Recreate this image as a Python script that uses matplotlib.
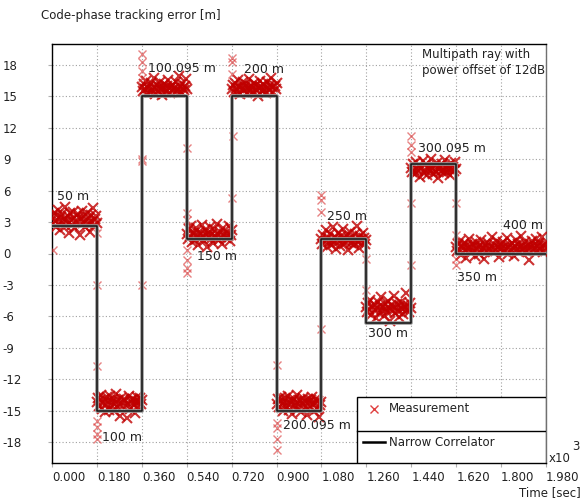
import numpy as np
import matplotlib
matplotlib.use('Agg')
import matplotlib.pyplot as plt
from matplotlib.patches import Rectangle
from matplotlib.lines import Line2D

# segment edges (x10^3 sec) and narrow correlator output per segment [m]
edges = [0.0, 0.18, 0.36, 0.54, 0.72, 0.90, 1.08, 1.26, 1.44, 1.62, 1.98]
nc_levels = [2.6, -15.0, 15.0, 1.4, 15.0, -15.0, 1.4, -6.6, 8.5, 0.0]

# multipath delay labels
labels = ['50 m', '100 m', '100.095 m', '150 m', '200 m', '200.095 m',
          '250 m', '300 m', '300.095 m', '350 m', '400 m']
label_t = [0.020, 0.200, 0.385, 0.581, 0.770, 0.926, 1.102, 1.267, 1.467, 1.623, 1.808]
label_y = [5.4, -17.6, 17.7, -0.3, 17.6, -16.4, 3.5, -7.6, 10.0, -2.3, 2.7]

m_50 = [3.4, 2.8, 3.9, 3.1, 2.5, 3.7, 4.2, 3.0, 2.2, 3.5, 3.8, 2.9, 3.3, 4.4, 2.6,
        3.1, 3.6, 2.0, 3.9, 3.2, 2.7, 4.0, 3.4, 2.4, 3.0, 3.8, 3.5, 1.8, 3.3, 4.1,
        2.9, 3.6, 2.5, 3.2, 3.9, 2.8, 3.4, 2.1, 3.7, 3.0, 4.3, 2.6, 3.3, 3.6, 2.9]
m_100 = [-14.2, -13.8, -14.6, -14.0, -13.5, -14.8, -14.3, -13.9, -15.1, -14.4,
         -13.7, -14.1, -14.9, -13.6, -14.5, -14.2, -13.9, -15.0, -14.3, -13.4,
         -14.7, -14.0, -14.4, -15.5, -13.8, -14.2, -14.6, -13.9, -14.1, -15.7,
         -14.4, -13.6, -14.8, -14.0, -14.3, -13.9, -14.5, -15.2, -14.1, -13.7,
         -14.6, -14.2, -13.8, -14.4, -14.0]
m_100095 = [15.9, 15.5, 16.2, 15.7, 16.5, 15.3, 15.8, 16.0, 15.4, 16.3, 15.6, 15.9,
            16.8, 15.2, 15.7, 16.1, 15.5, 15.9, 16.4, 15.6, 15.1, 15.8, 16.2, 15.7,
            15.4, 16.0, 16.6, 15.8, 15.3, 15.9, 16.1, 15.6, 15.8, 16.4, 15.5, 15.7,
            16.9, 15.9, 15.4, 16.2, 15.8, 15.6, 16.0, 16.7, 15.7]
m_150 = [1.9, 1.4, 2.3, 1.7, 2.6, 1.1, 1.8, 2.0, 1.3, 2.4, 1.6, 0.8, 2.1, 1.9, 1.5,
         2.7, 1.7, 1.2, 2.2, 1.8, 0.6, 2.0, 1.6, 2.5, 1.4, 1.9, 1.0, 2.3, 1.7, 1.5,
         2.8, 1.8, 1.3, 2.1, 1.6, 0.9, 2.4, 1.9, 1.5, 2.0, 1.7, 2.6, 1.2, 1.8, 2.2]
m_200 = [15.7, 16.1, 15.4, 16.3, 15.8, 15.5, 16.6, 15.9, 15.2, 16.0, 15.7, 16.4,
         15.6, 15.9, 16.2, 15.3, 15.8, 16.7, 15.5, 16.0, 15.9, 15.4, 16.3, 15.7,
         16.1, 15.6, 15.0, 15.8, 16.5, 15.9, 15.5, 16.2, 15.7, 16.0, 15.3, 16.4,
         15.8, 15.6, 16.1, 16.8, 15.9, 15.4, 16.0, 15.7, 16.3]
m_200095 = [-14.4, -13.9, -14.7, -14.1, -13.7, -14.5, -15.0, -14.2, -13.8, -14.6,
            -14.3, -13.6, -14.9, -14.0, -14.4, -15.3, -14.1, -13.9, -14.6, -14.2,
            -13.5, -14.8, -14.4, -14.0, -15.1, -14.3, -13.8, -14.5, -14.1, -14.7,
            -15.4, -13.9, -14.2, -14.6, -14.0, -13.7, -14.4, -15.0, -14.3, -13.9,
            -14.8, -14.1, -15.6, -14.5, -14.2]
m_250 = [1.4, 0.9, 1.8, 1.2, 2.2, 0.6, 1.5, 1.1, 1.9, 0.8, 1.3, 2.5, 1.0, 1.6, 0.4,
         1.4, 2.0, 1.2, 0.7, 1.7, 1.3, 2.3, 0.9, 1.5, 1.1, 1.8, 0.3, 1.4, 2.1, 1.0,
         1.6, 1.2, 0.8, 1.9, 1.3, 2.6, 1.1, 0.5, 1.7, 1.4, 1.0, 2.0, 1.5, 0.9, 1.3]
m_300 = [-5.1, -5.6, -4.7, -5.3, -4.4, -5.9, -5.0, -5.4, -4.9, -6.2, -5.2, -4.6,
         -5.7, -5.0, -4.2, -5.5, -5.1, -6.0, -4.8, -5.3, -5.6, -4.5, -5.2, -6.4,
         -4.9, -5.4, -5.0, -4.1, -5.7, -5.2, -4.8, -5.5, -6.1, -5.0, -4.6, -5.3,
         -5.8, -4.9, -5.1, -3.8, -5.4, -5.0, -5.6, -4.7, -5.2]
m_300095 = [8.2, 7.8, 8.5, 8.0, 7.6, 8.7, 8.1, 7.9, 8.4, 7.3, 8.2, 8.8, 7.7, 8.0,
            8.5, 7.5, 8.3, 8.1, 7.9, 9.0, 8.2, 7.6, 8.4, 8.0, 7.8, 8.6, 7.2, 8.1,
            8.3, 7.9, 8.5, 8.0, 7.7, 8.9, 8.2, 7.8, 8.4, 8.1, 7.5, 8.6, 8.0, 8.3,
            7.9, 8.7, 8.1]
m_350 = [0.6, 0.2, 0.9, 0.4, 1.2, -0.1, 0.7, 0.5, 1.0, 0.3, -0.4, 0.8, 0.5, 1.4, 0.1,
         0.6, 0.9, 0.2, 0.7, -0.2, 1.1, 0.4, 0.6, 0.0, 0.8, 1.3, 0.3, 0.5, -0.5, 0.9,
         0.6, 0.2, 1.0, 0.4, 0.7, 1.6, 0.1, 0.5, 0.8, 0.3, 1.2, 0.6, -0.3, 0.4, 0.9,
         0.5, 1.1, 0.2, 0.7, 0.4, 1.5, 0.0, 0.6, 0.8, 0.3, 1.0, 0.5, -0.2, 0.7, 1.3,
         0.4, 0.9, 0.1, 0.6, 1.7, 0.3, 0.8, 0.5, 1.1, 0.2, 0.7, 0.4, -0.6, 0.9, 0.6,
         1.2, 0.3, 0.8, 0.5, 1.4, 0.2, 0.7, 1.0, 0.4, 0.6, 1.6, 0.1, 0.8, 0.5, 0.9]
segments = [m_50, m_100, m_100095, m_150, m_200, m_200095, m_250, m_300, m_300095, m_350]

# transient measurements at the switching instants
out_t = [0.005, 0.18, 0.18, 0.18, 0.18, 0.18, 0.18, 0.18,
         0.36, 0.36, 0.36, 0.36, 0.36, 0.36, 0.36,
         0.54, 0.54, 0.54, 0.54, 0.54, 0.54, 0.54,
         0.72, 0.72, 0.72, 0.72, 0.725,
         0.90, 0.90, 0.90, 0.90, 0.90,
         1.08, 1.08, 1.08, 1.08,
         1.26, 1.26,
         1.44, 1.44, 1.44, 1.44, 1.44,
         1.62, 1.62, 1.62, 1.62]
out_y = [0.3, 2.0, -3.0, -10.7, -16.0, -16.6, -17.2, -17.7,
         8.8, -3.0, 16.8, 17.4, 18.3, 19.0, 9.0,
         10.1, 3.9, 3.2, 0.3, -0.6, -1.4, -1.9,
         5.3, 18.7, 18.3, 17.1, 11.2,
         -10.6, -16.2, -16.7, -17.7, -18.8,
         -7.2, 5.6, 5.1, 4.0,
         -0.5, -3.5,
         -1.1, 4.8, 11.2, 10.4, 9.7,
         4.8, 1.8, -0.5, -1.1]

plt.rcParams['font.family'] = 'DejaVu Sans'
fig = plt.figure(figsize=(5.83, 5.01), dpi=100)
ax = fig.add_axes([52 / 583, 38 / 501, 494 / 583, 419 / 501])

red = '#c00000'
for i, vals in enumerate(segments):
    t = np.linspace(edges[i], edges[i + 1], len(vals))
    ax.plot(t, vals, 'x', color=red, alpha=0.8, ms=7, mew=1.5, zorder=3)
ax.plot(out_t, out_y, 'x', color='#d83030', alpha=0.6, ms=6, mew=1.0, zorder=3)

# narrow correlator step
step_y = nc_levels + [nc_levels[-1]]
ax.step(edges, step_y, where='post', color='#9a9a9a', lw=2.6, zorder=4)
ax.step(edges, step_y, where='post', color='#111111', lw=1.1, zorder=5)

for s, tx, ty in zip(labels, label_t, label_y):
    ax.text(tx, ty, s, fontsize=9, ha='left', va='center', color='#222222', zorder=6)

ax.set_xlim(0, 1.98)
ax.set_ylim(-20, 20)
xt = np.arange(12) * 0.18
ax.set_xticks(xt)
ax.set_xticklabels(['%.3f' % v for v in xt], ha='left')
yt = np.arange(-18, 19, 3)
ax.set_yticks(yt)
ax.set_yticklabels([str(v) for v in yt], ha='left')
ax.tick_params(axis='x', length=3, color='#b0b0b0', pad=3, labelsize=8.5, labelcolor='#222222')
ax.tick_params(axis='y', length=3, color='#b0b0b0', pad=32.4, labelsize=8.5, labelcolor='#222222')
ax.grid(True, color='#a0a0a0', linestyle=(0, (1, 2)), lw=0.8)
for sp in ax.spines.values():
    sp.set_linewidth(1.0)
    sp.set_color('black')
ax.spines['right'].set_color('#707070')

fig.text(41 / 583, 1 - 15 / 501, 'Code-phase tracking error [m]', fontsize=8.5,
         ha='left', va='center', color='#222222')
ax.text(0.748, 0.99, 'Multipath ray with\npower offset of 12dB', transform=ax.transAxes,
        fontsize=8.5, ha='left', va='top', color='#222222', linespacing=1.3)
fig.text(581 / 583, 1 - 493 / 501, 'Time [sec]', fontsize=8.5, ha='right', va='center',
         color='#222222')
fig.text(549 / 583, 1 - 458 / 501, 'x10', fontsize=8.5, ha='left', va='center', color='#222222')
fig.text(572 / 583, 1 - 446 / 501, '3', fontsize=8.5, ha='left', va='center', color='#222222')

# legend box with divider
ax.add_patch(Rectangle((0.617, 0.0), 0.383, 0.1575, transform=ax.transAxes,
                       facecolor='white', edgecolor='black', lw=1.0, zorder=7))
ax.add_line(Line2D([0.617, 1.0], [0.0764, 0.0764], transform=ax.transAxes,
                   color='black', lw=1.0, zorder=8))
ax.add_line(Line2D([0.652], [0.129], transform=ax.transAxes, marker='x', ls='none',
                   color='#e04040', ms=6, mew=1.0, zorder=8))
ax.text(0.682, 0.129, 'Measurement', transform=ax.transAxes, fontsize=8.5,
        ha='left', va='center', color='#222222', zorder=8)
ax.add_line(Line2D([0.630, 0.674], [0.050, 0.050], transform=ax.transAxes,
                   color='black', lw=1.8, zorder=8))
ax.text(0.682, 0.050, 'Narrow Correlator', transform=ax.transAxes, fontsize=8.5,
        ha='left', va='center', color='#222222', zorder=8)

fig.savefig('out.png', dpi=100)
